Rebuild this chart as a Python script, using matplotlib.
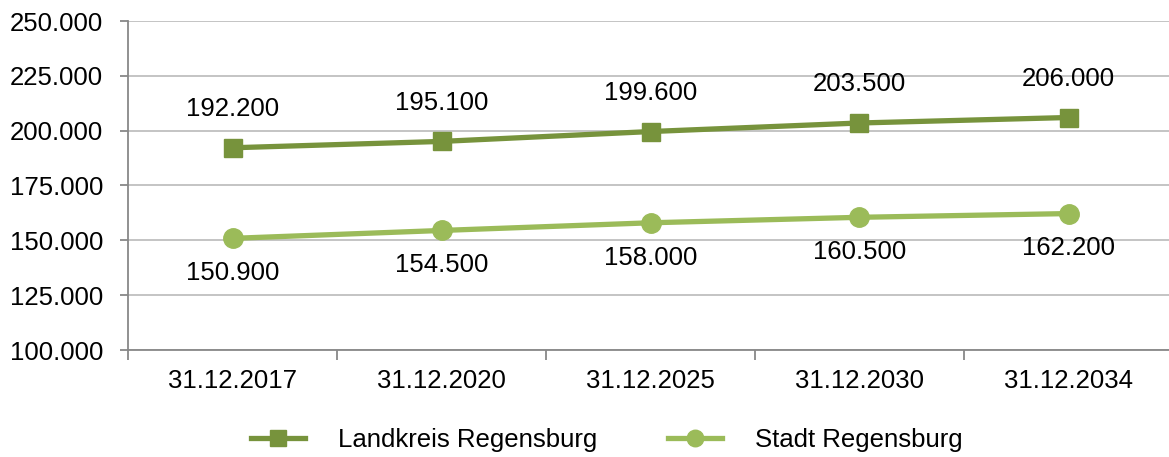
import matplotlib.pyplot as plt
from matplotlib.ticker import FuncFormatter, FixedLocator

plt.rcParams['font.family'] = ['Liberation Sans', 'DejaVu Sans']

# Daten
dates = ['31.12.2017', '31.12.2020', '31.12.2025', '31.12.2030', '31.12.2034']
landkreis = [192200, 195100, 199600, 203500, 206000]
stadt = [150900, 154500, 158000, 160500, 162200]
y_ticks = [100000, 125000, 150000, 175000, 200000, 225000, 250000]

dark_green = '#77933C'
light_green = '#9BBB59'
grid_gray = '#BFBFBF'
fs = 18.5


def de_format(v, pos=None):
    return f'{int(v):,}'.replace(',', '.')


fig = plt.figure(figsize=(11.69, 4.57), dpi=100)
ax = fig.add_axes([128 / 1169, 1 - 350 / 457, 1045 / 1169, 329 / 457])

x = list(range(len(dates)))
ax.plot(x, landkreis, color=dark_green, lw=3.8, marker='s', ms=13,
        label='Landkreis Regensburg', zorder=3)
ax.plot(x, stadt, color=light_green, lw=3.8, marker='o', ms=14,
        label='Stadt Regensburg', zorder=3)

# Datenbeschriftungen
for xi, v in zip(x, landkreis):
    ax.annotate(de_format(v), (xi, v), xytext=(0, 28), textcoords='offset points',
                ha='center', va='center', fontsize=fs)
for xi, v in zip(x, stadt):
    ax.annotate(de_format(v), (xi, v), xytext=(0, -25), textcoords='offset points',
                ha='center', va='center', fontsize=fs)

ax.set_xlim(-0.5, len(dates) - 0.5)
ax.set_ylim(100000, 250000)
ax.set_yticks(y_ticks)
ax.yaxis.set_major_formatter(FuncFormatter(de_format))
ax.grid(axis='y', color=grid_gray, lw=1.3)
ax.set_axisbelow(True)

ax.set_xticks(x)
ax.set_xticklabels(dates)
ax.xaxis.set_minor_locator(FixedLocator([i + 0.5 for i in x[:-1]] + [-0.5]))
ax.tick_params(axis='x', which='major', length=0, pad=14, labelsize=fs)
ax.tick_params(axis='x', which='minor', length=7, color='#888888', width=1.3)
ax.tick_params(axis='y', length=6, color='#888888', width=1.3, pad=12, labelsize=fs)

for side in ['top', 'right']:
    ax.spines[side].set_visible(False)
for side in ['left', 'bottom']:
    ax.spines[side].set_color('#888888')
    ax.spines[side].set_linewidth(1.3)

leg = fig.legend(loc='center', bbox_to_anchor=(0.519, 1 - 440 / 457),
                 ncol=2, frameon=False, fontsize=fs, handlelength=2.1,
                 columnspacing=2.75, handletextpad=1.3, markerscale=0.85)

fig.savefig('out.png', dpi=100)
